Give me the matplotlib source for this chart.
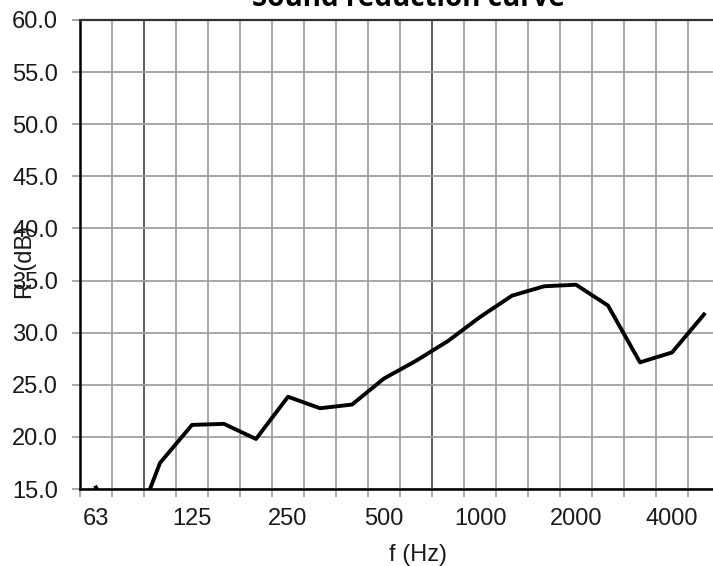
import numpy as np
import matplotlib
matplotlib.use("Agg")
import matplotlib.pyplot as plt
from matplotlib.ticker import FixedLocator, NullFormatter

# third-octave bands and measured sound reduction index
bands = [63, 80, 100, 125, 160, 200, 250, 315, 400, 500, 630, 800,
         1000, 1250, 1600, 2000, 2500, 3150, 4000, 5000]
r_db = [15.15, 9.5, 17.5, 21.15, 21.25, 19.8, 23.85, 22.75, 23.1, 25.6, 27.3,
        29.2, 31.5, 33.55, 34.45, 34.6, 32.6, 27.15, 28.1, 31.75]
label_bands = [63, 125, 250, 500, 1000, 2000, 4000]
y_ticks = [15, 20, 25, 30, 35, 40, 45, 50, 55, 60]

plt.rcParams['font.family'] = ['Liberation Sans', 'DejaVu Sans']

W, H = 713, 566
fig = plt.figure(figsize=(W / 100, H / 100), dpi=100)
ax = fig.add_axes([80 / W, (H - 489) / H, 640 / W, 469 / H])

x = np.arange(len(bands))
ax.plot(x, r_db, color="black", lw=2.8, solid_joinstyle="round", zorder=5)

ax.set_xlim(-0.5, len(bands) - 0.5)
ax.set_ylim(15, 60)

# band edges -> grid + small ticks, band centres -> labels
edges = np.arange(-0.5, len(bands), 1.0)
ax.xaxis.set_minor_locator(FixedLocator(edges))
ax.xaxis.set_minor_formatter(NullFormatter())
ax.set_xticks([bands.index(b) for b in label_bands])
ax.set_xticklabels([str(b) for b in label_bands])
ax.tick_params(axis="x", which="major", length=0, pad=14, labelsize=17, labelcolor="#1a1a1a")
ax.tick_params(axis="x", which="minor", length=5.8, width=1.2, color="#a0a0a0", direction="out")

ax.set_yticks(y_ticks)
ax.set_yticklabels(["%.1f" % v for v in y_ticks])
ax.tick_params(axis="y", length=5.8, width=1.2, color="#999999", pad=10, labelsize=17, labelcolor="#1a1a1a")

for e in edges:
    dark = e in (1.5, 10.5)
    ax.axvline(e, color="#505050" if dark else "#a0a0a0", lw=1.3, zorder=1)
for v in y_ticks:
    ax.axhline(v, color="#a0a0a0", lw=1.3, zorder=1)

for s in ["left", "bottom"]:
    ax.spines[s].set_linewidth(1.8)
    ax.spines[s].set_color("black")
ax.spines["top"].set_linewidth(1.6)
ax.spines["top"].set_color("#333333")
ax.spines["right"].set_visible(False)

fig.text(418 / W, (H - 555) / H, "f (Hz)", ha="center", va="center", fontsize=17, color="#1a1a1a")
fig.text(26 / W, (H - 262) / H, "R' (dB)", ha="center", va="center", rotation=90,
         fontsize=17, color="#1a1a1a")
fig.text(409 / W, (H - 6) / H, "Sound reduction curve", ha="center", va="baseline",
         fontsize=20, fontweight="bold", family=["Open Sans", "DejaVu Sans"])

fig.savefig("out.png", dpi=100)
